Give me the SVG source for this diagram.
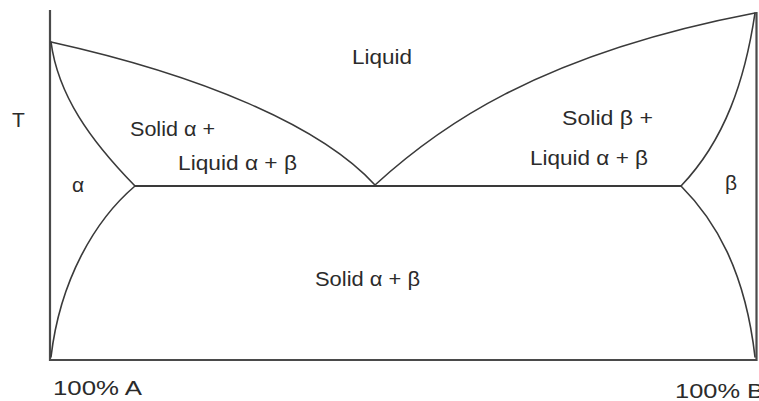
<svg xmlns="http://www.w3.org/2000/svg" width="759" height="401" viewBox="0 0 759 401">
<style>
.ax{fill:none;stroke:#4a4a4a;stroke-width:2.2}
.ln{fill:none;stroke:#3a3a3a;stroke-width:1.6;stroke-linecap:round}
.eu{fill:none;stroke:#3a3a3a;stroke-width:2.2}
text{font-family:"Liberation Sans",Arial,sans-serif;font-size:21px;fill:#2b2b2b}
</style>
<rect width="759" height="401" fill="#fff"/>
<g id="axes">
<path class="ax" d="M50,10 V360 H756.5 V12"/>
</g>
<g id="curves">
<path id="liquidus-left" class="ln" d="M51,42 C200,75 320,125 375,185"/>
<path id="liquidus-right" class="ln" d="M375,185 C435,130 535,55 755,13"/>
<path id="solvus-left-top" class="ln" d="M51,42 C58,95 90,140 135,186"/>
<path id="solvus-left-bottom" class="ln" d="M135,186 C95,220 60,280 51,357"/>
<path id="solvus-right-top" class="ln" d="M755,13 C745,80 725,140 681,186"/>
<path id="solvus-right-bottom" class="ln" d="M681,186 C715,220 745,270 755,357"/>
<path id="eutectic" class="eu" d="M135,186 H681"/>
</g>
<g id="labels">
<text x="352" y="64" textLength="60" lengthAdjust="spacingAndGlyphs">Liquid</text>
<text x="12" y="127">T</text>
<text x="130" y="136" textLength="85" lengthAdjust="spacingAndGlyphs">Solid α +</text>
<text x="178" y="170" textLength="119" lengthAdjust="spacingAndGlyphs">Liquid α + β</text>
<text x="562" y="125" textLength="91" lengthAdjust="spacingAndGlyphs">Solid β +</text>
<text x="530" y="165" textLength="118" lengthAdjust="spacingAndGlyphs">Liquid α + β</text>
<text x="72" y="192">α</text>
<text x="725" y="190">β</text>
<text x="315" y="286" textLength="105" lengthAdjust="spacingAndGlyphs">Solid α + β</text>
<text x="53" y="395" textLength="89" lengthAdjust="spacingAndGlyphs">100% A</text>
<text x="675" y="398" textLength="89" lengthAdjust="spacingAndGlyphs">100% B</text>
</g>
</svg>
